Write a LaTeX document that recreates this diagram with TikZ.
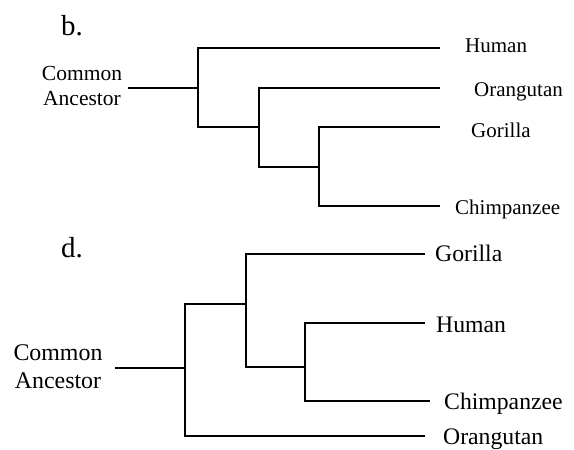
\documentclass[tikz,border=0pt]{standalone}
\usepackage{fontspec}
\setmainfont{Liberation Serif}
\begin{document}
\begin{tikzpicture}[x=1pt,y=-1pt,
  br/.style={line width=1.8pt,line join=miter},
  lbA/.style={anchor=base west,inner sep=0pt,font=\fontsize{21}{25}\selectfont},
  lbB/.style={anchor=base west,inner sep=0pt,font=\fontsize{23.7}{28}\selectfont},
  ancA/.style={anchor=base,inner sep=0pt,align=center,font=\fontsize{21.5}{25}\selectfont},
  ancB/.style={anchor=base,inner sep=0pt,align=center,font=\fontsize{23.9}{28}\selectfont},
  lett/.style={anchor=base west,inner sep=0pt,font=\fontsize{29}{32}\selectfont}]
\useasboundingbox (0,0) rectangle (574,450);
% ---------- b ----------
\node[lett] (lb) at (61,35) {b.};
\node[ancA] (ancb) at (82,105) {Common\\Ancestor};
\coordinate (rS) at (128,88);
\coordinate (r1) at (198,88);
\coordinate (j2) at (259,127);
\coordinate (j3) at (319,167);
\coordinate (hE) at (440,48);
\coordinate (oE) at (440,88);
\coordinate (gE) at (440,127);
\coordinate (cE) at (440,206);
\node[lbA] (hum) at (465,52) {Human};
\node[lbA] (ora) at (474,96) {Orangutan};
\node[lbA] (gor) at (471,137) {Gorilla};
\node[lbA] (chi) at (455,214) {Chimpanzee};
\draw[br] (rS) -- (r1);
\draw[br] (hE) -| (r1) |- (j2);
\draw[br] (oE) -| (j2) |- (j3);
\draw[br] (gE) -| (j3) |- (cE);
% ---------- d ----------
\node[lett] (ld) at (61,257) {d.};
\node[ancB] (ancd) at (58,388) {Common\\Ancestor};
\coordinate (sS) at (115,368);
\coordinate (s1) at (185,368);
\coordinate (k2) at (246,304);
\coordinate (k3) at (305,367);
\coordinate (gE2) at (425,254);
\coordinate (hE2) at (425,323);
\coordinate (cE2) at (430,401);
\coordinate (oE2) at (425,436);
\node[lbB] (gor2) at (435,261) {Gorilla};
\node[lbB] (hum2) at (436,332) {Human};
\node[lbB] (chi2) at (444,409) {Chimpanzee};
\node[lbB] (ora2) at (443,444) {Orangutan};
\draw[br] (sS) -- (s1);
\draw[br] (oE2) -| (s1) |- (k2);
\draw[br] (gE2) -| (k2) |- (k3);
\draw[br] (hE2) -| (k3) |- (cE2);
\end{tikzpicture}
\end{document}
